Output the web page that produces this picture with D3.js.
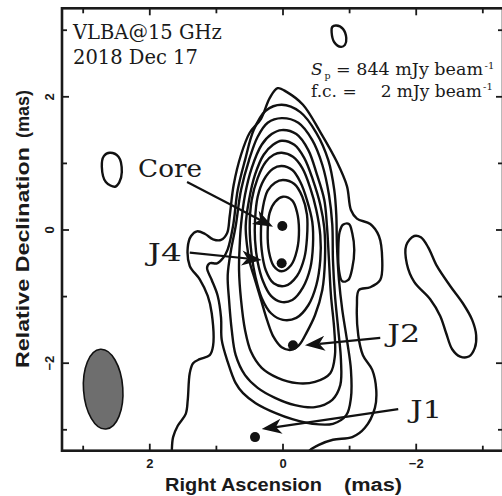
<!DOCTYPE html>
<html>
<head>
<meta charset="utf-8">
<script src="https://cdn.jsdelivr.net/npm/d3@7"></script>
<style>
  html, body { margin: 0; padding: 0; background: #fff; }
  svg { display: block; }
</style>
</head>
<body>
<svg id="map" width="502" height="496"></svg>
<script>
// ---- axis ticks (mas) ----
const raTicks = [3, 2, 1, 0, -1, -2, -3];
const decTicks = [-3, -2, -1, 0, 1, 2, 3];
const labelledTicks = [2, 0, -2];

// ---- contour lines: [relative RA, relative Dec] in mas ----
// lowest contour (f.c.), open towards the southern edge of the map
const contourL1 = [[1.67,-3.68],[1.67,-3.33],[1.65,-3.11],[1.58,-2.94],[1.46,-2.76],[1.43,-2.55],[1.40,-2.15],[1.35,-2.00],[1.25,-1.94],[1.10,-1.88],[1.05,-1.74],[1.07,-1.25],[1.13,-0.99],[1.25,-0.74],[1.40,-0.54],[1.43,-0.26],[1.38,-0.09],[1.29,-0.02],[1.17,-0.06],[1.05,-0.14],[0.93,-0.15],[0.84,-0.05],[0.80,0.21],[0.74,0.68],[0.63,1.13],[0.50,1.46],[0.33,1.67],[0.20,1.98],[0.08,2.13],[-0.06,2.07],[-0.30,1.88],[-0.56,1.47],[-0.81,1.02],[-0.96,0.66],[-1.02,0.30],[-1.11,0.17],[-1.31,0.09],[-1.44,-0.09],[-1.49,-0.45],[-1.46,-0.75],[-1.31,-0.86],[-1.14,-0.90],[-1.11,-1.13],[-1.13,-1.58],[-1.20,-1.88],[-1.34,-2.10],[-1.40,-2.40],[-1.38,-2.67],[-1.23,-2.97],[-1.04,-3.11],[-0.75,-3.15],[-0.53,-3.23],[-0.38,-3.33],[-0.26,-3.68]];
const contourL2 = [[0.02,1.88],[-0.26,1.77],[-0.50,1.46],[-0.68,1.05],[-0.77,0.60],[-0.80,0.23],[-0.81,-0.23],[-0.84,-0.75],[-0.89,-1.20],[-0.96,-1.65],[-1.02,-2.10],[-1.02,-2.52],[-0.95,-2.78],[-0.75,-2.91],[-0.44,-2.91],[-0.14,-2.84],[0.11,-2.75],[0.41,-2.60],[0.60,-2.45],[0.71,-2.30],[0.83,-1.98],[0.92,-1.65],[0.93,-1.32],[0.98,-0.99],[1.07,-0.75],[1.14,-0.57],[1.10,-0.50],[0.99,-0.50],[0.90,-0.42],[0.83,-0.29],[0.75,0.06],[0.68,0.60],[0.57,1.05],[0.44,1.50],[0.26,1.79]];
const contourL3 = [[0.02,1.68],[-0.23,1.61],[-0.44,1.35],[-0.59,0.98],[-0.69,0.53],[-0.74,0.08],[-0.75,-0.45],[-0.78,-0.98],[-0.83,-1.50],[-0.87,-1.95],[-0.86,-2.33],[-0.74,-2.55],[-0.48,-2.66],[-0.18,-2.63],[0.12,-2.52],[0.38,-2.37],[0.57,-2.18],[0.71,-1.88],[0.77,-1.50],[0.81,-1.05],[0.83,-0.68],[0.78,-0.30],[0.71,0.06],[0.63,0.60],[0.51,1.05],[0.38,1.40],[0.23,1.61]];
const contourL4 = [[0.02,1.50],[-0.20,1.44],[-0.38,1.20],[-0.51,0.83],[-0.62,0.45],[-0.66,0.06],[-0.69,-0.45],[-0.72,-0.98],[-0.77,-1.50],[-0.78,-1.88],[-0.71,-2.15],[-0.48,-2.28],[-0.21,-2.30],[0.08,-2.22],[0.32,-2.07],[0.48,-1.83],[0.57,-1.50],[0.63,-1.05],[0.66,-0.60],[0.65,-0.23],[0.63,0.08],[0.57,0.53],[0.47,0.93],[0.32,1.28],[0.17,1.44]];
const contourL5 = [[0.02,1.34],[-0.17,1.28],[-0.32,1.08],[-0.45,0.75],[-0.56,0.38],[-0.62,0.03],[-0.63,-0.45],[-0.59,-0.90],[-0.48,-1.28],[-0.36,-1.53],[-0.24,-1.73],[-0.12,-1.80],[0.02,-1.76],[0.14,-1.61],[0.24,-1.35],[0.33,-1.05],[0.42,-0.75],[0.50,-0.48],[0.54,-0.23],[0.56,0.06],[0.51,0.45],[0.42,0.83],[0.29,1.13],[0.15,1.28]];
const contourL6 = [[0.02,1.16],[-0.15,1.10],[-0.29,0.93],[-0.41,0.63],[-0.50,0.30],[-0.56,-0.08],[-0.56,-0.45],[-0.50,-0.83],[-0.38,-1.13],[-0.20,-1.32],[0.00,-1.35],[0.18,-1.25],[0.32,-1.02],[0.41,-0.72],[0.47,-0.38],[0.50,0.03],[0.47,0.45],[0.38,0.78],[0.26,1.02],[0.14,1.13]];
const contourL7 = [[0.02,0.96],[-0.14,0.90],[-0.26,0.72],[-0.36,0.45],[-0.44,0.12],[-0.45,-0.23],[-0.41,-0.57],[-0.30,-0.86],[-0.14,-1.05],[0.03,-1.08],[0.18,-0.99],[0.30,-0.77],[0.38,-0.48],[0.42,-0.15],[0.42,0.15],[0.38,0.50],[0.29,0.75],[0.15,0.92]];
const contourL8 = [[0.00,0.75],[-0.17,0.69],[-0.29,0.50],[-0.36,0.23],[-0.36,-0.12],[-0.32,-0.42],[-0.21,-0.69],[-0.03,-0.84],[0.14,-0.80],[0.26,-0.60],[0.32,-0.30],[0.33,0.03],[0.30,0.35],[0.23,0.59],[0.12,0.71]];
const contourL9 = [[0.00,0.50],[-0.14,0.44],[-0.21,0.27],[-0.24,0.00],[-0.21,-0.30],[-0.12,-0.53],[0.02,-0.62],[0.14,-0.54],[0.21,-0.33],[0.23,-0.03],[0.20,0.26],[0.12,0.42]];
// isolated low-level islands
const islandWest = [[2.60,1.16],[2.47,1.10],[2.42,0.87],[2.46,0.71],[2.52,0.65],[2.66,0.72],[2.72,0.95],[2.69,1.11]];
const islandNorth = [[-0.80,3.07],[-0.90,3.02],[-0.95,2.88],[-0.93,2.78],[-0.87,2.75],[-0.77,2.82],[-0.73,2.97],[-0.74,3.05]];
const islandEast = [[-1.97,-0.09],[-2.07,-0.11],[-2.18,-0.26],[-2.31,-0.54],[-2.51,-0.84],[-2.70,-1.10],[-2.84,-1.35],[-2.90,-1.58],[-2.88,-1.77],[-2.79,-1.90],[-2.66,-1.90],[-2.54,-1.79],[-2.45,-1.55],[-2.36,-1.29],[-2.21,-1.04],[-1.97,-0.78],[-1.86,-0.51],[-1.85,-0.23]];
const islandRidge = [[-0.90,0.08],[-0.99,0.09],[-1.04,-0.05],[-1.07,-0.30],[-1.04,-0.57],[-0.98,-0.75],[-0.89,-0.77],[-0.84,-0.60],[-0.83,-0.30],[-0.85,-0.03]];

// ---- jet components ----
const componentNames = ["Core", "J4", "J2", "J1"];
const componentRA = [0.01, 0.02, -0.15, 0.42];
const componentDec = [0.06, -0.50, -1.73, -3.11];

// ---- annotation arrows: tail and tip (mas) ----
const arrowTail = [[1.44, 0.72], [1.40, -0.34], [-1.46, -1.62], [-1.73, -2.69]];
const arrowTip = [[0.15, 0.05], [0.32, -0.45], [-0.33, -1.73], [0.32, -2.99]];

// ---- restoring beam (mas, degrees) ----
const beamCentre = [2.70, -2.39];
const beamMajor = 1.20;
const beamMinor = 0.59;
const beamPA = 4;

// ---- header text ----
const headerLines = ["VLBA@15 GHz", "2018 Dec 17"];
const peakFlux = "= 844 mJy beam";
const firstContour = "2 mJy beam";

// ---------------------------------------------------------------
const svg = d3.select("#map");
const frameL = 62, frameR = 503, frameT = 8.3, frameB = 450.7;

const x = d3.scaleLinear().domain([3.318, -3.303]).range([frameL, frameR]);
const y = d3.scaleLinear().domain([-3.314, 3.329]).range([frameB, frameT]);
const pxPerMas = Math.abs(x(1) - x(0));

svg.append("defs").append("clipPath").attr("id", "plotClip")
  .append("rect").attr("x", frameL).attr("y", frameT)
  .attr("width", frameR - frameL).attr("height", frameB - frameT);

const plot = svg.append("g").attr("clip-path", "url(#plotClip)");

// contours
const ring = d3.line()
  .x(d => x(d[0])).y(d => y(d[1]))
  .curve(d3.curveCatmullRomClosed.alpha(0.5));

const contourSet = [contourL1, contourL2, contourL3, contourL4, contourL5,
  contourL6, contourL7, contourL8, contourL9,
  islandWest, islandNorth, islandEast, islandRidge];

plot.selectAll("path.contour").data(contourSet).join("path")
  .attr("class", "contour")
  .attr("d", ring)
  .attr("fill", "none")
  .attr("stroke", "#111")
  .attr("stroke-width", 2.4)
  .attr("stroke-linejoin", "round");

// beam
plot.append("ellipse")
  .attr("cx", 0).attr("cy", 0)
  .attr("rx", beamMinor / 2 * pxPerMas)
  .attr("ry", beamMajor / 2 * pxPerMas)
  .attr("transform", `translate(${x(beamCentre[0])},${y(beamCentre[1])}) rotate(${-beamPA})`)
  .attr("fill", "#6e6e6e")
  .attr("stroke", "#111")
  .attr("stroke-width", 1.6);

// arrows
const headLen = 20, headHalf = 7.5;
componentNames.forEach((name, i) => {
  const x0 = x(arrowTail[i][0]), y0 = y(arrowTail[i][1]);
  const x1 = x(arrowTip[i][0]), y1 = y(arrowTip[i][1]);
  const len = Math.hypot(x1 - x0, y1 - y0);
  const ux = (x1 - x0) / len, uy = (y1 - y0) / len;
  const nx = -uy, ny = ux;
  const bx = x1 - ux * headLen, by = y1 - uy * headLen;
  const mx = x1 - ux * headLen * 0.72, my = y1 - uy * headLen * 0.72;
  plot.append("line")
    .attr("x1", x0).attr("y1", y0).attr("x2", mx).attr("y2", my)
    .attr("stroke", "#111").attr("stroke-width", 2.2);
  plot.append("path")
    .attr("d", `M${x1},${y1}L${bx + nx * headHalf},${by + ny * headHalf}L${mx},${my}L${bx - nx * headHalf},${by - ny * headHalf}Z`)
    .attr("fill", "#111");
});

// component markers
plot.selectAll("circle.comp").data(componentNames).join("circle")
  .attr("class", "comp")
  .attr("cx", (d, i) => x(componentRA[i]))
  .attr("cy", (d, i) => y(componentDec[i]))
  .attr("r", 5)
  .attr("fill", "#111");

// frame
svg.append("rect")
  .attr("x", frameL).attr("y", frameT)
  .attr("width", frameR - frameL).attr("height", frameB - frameT)
  .attr("fill", "none").attr("stroke", "#1a1a1a").attr("stroke-width", 2.6);

// inward ticks on all four sides
const tickLen = v => labelledTicks.includes(v) ? 7 : 5;
const ticks = svg.append("g").attr("stroke", "#1a1a1a").attr("stroke-width", 1.8);
raTicks.forEach(v => {
  ticks.append("line").attr("x1", x(v)).attr("x2", x(v)).attr("y1", frameB).attr("y2", frameB - tickLen(v));
  ticks.append("line").attr("x1", x(v)).attr("x2", x(v)).attr("y1", frameT).attr("y2", frameT + tickLen(v));
});
decTicks.forEach(v => {
  ticks.append("line").attr("y1", y(v)).attr("y2", y(v)).attr("x1", frameL).attr("x2", frameL + tickLen(v));
  ticks.append("line").attr("y1", y(v)).attr("y2", y(v)).attr("x1", frameR).attr("x2", frameR - tickLen(v));
});

const fmt = v => v < 0 ? "\u2212" + Math.abs(v) : String(v);
const tickFont = "'Liberation Sans', Arial, sans-serif";
svg.selectAll("text.xt").data(labelledTicks).join("text")
  .attr("class", "xt")
  .attr("x", d => x(d)).attr("y", 468)
  .attr("text-anchor", "middle")
  .attr("font-family", tickFont).attr("font-weight", "bold").attr("font-size", 13)
  .attr("fill", "#1a1a1a")
  .text(fmt);
svg.selectAll("text.yt").data(labelledTicks).join("text")
  .attr("class", "yt")
  .attr("transform", d => `translate(53.5,${y(d)}) rotate(-90)`)
  .attr("text-anchor", "middle")
  .attr("font-family", tickFont).attr("font-weight", "bold").attr("font-size", 13)
  .attr("fill", "#1a1a1a")
  .text(fmt);

// axis titles
const titleFont = "'Liberation Sans', Arial, sans-serif";
function title(g, str, len) {
  return g.append("text").attr("font-family", titleFont).attr("font-weight", "bold")
    .attr("font-size", 18).attr("fill", "#1a1a1a")
    .attr("textLength", len).attr("lengthAdjust", "spacingAndGlyphs").text(str);
}
title(svg, "Right Ascension", 157).attr("x", 165).attr("y", 491);
title(svg, "(mas)", 58).attr("x", 344).attr("y", 491);
const yTitle = svg.append("g").attr("transform", "translate(28.5,0) rotate(-90)");
title(yTitle, "Relative Declination", 221).attr("x", -368).attr("y", 0);
title(yTitle, "(mas)", 48).attr("x", -138).attr("y", 0);

// header and labels
const serif = "'DejaVu Serif', serif";
headerLines.forEach((t, i) => {
  svg.append("text").attr("x", 73).attr("y", 38.7 + i * 25.3)
    .attr("font-family", serif).attr("font-size", 19.5).attr("fill", "#1a1a1a")
    .text(t);
});

const info = svg.append("g").attr("font-family", serif).attr("fill", "#1a1a1a");
info.append("text").attr("x", 311).attr("y", 75).attr("font-size", 17)
  .attr("font-style", "italic").text("S");
info.append("text").attr("x", 324.5).attr("y", 78.5).attr("font-size", 9.5).text("p");
info.append("text").attr("x", 336).attr("y", 75).attr("font-size", 17)
  .attr("textLength", 147).attr("lengthAdjust", "spacingAndGlyphs").text(peakFlux);
info.append("text").attr("x", 484.5).attr("y", 68.5).attr("font-size", 10).text("-1");
info.append("text").attr("x", 311).attr("y", 96.7).attr("font-size", 17).text("f.c. =");
info.append("text").attr("x", 482).attr("y", 96.7).attr("font-size", 17)
  .attr("text-anchor", "end").text(firstContour);
info.append("text").attr("x", 483).attr("y", 90).attr("font-size", 10).text("-1");

// component labels, placed at the arrow tails
const labelOffset = [[-49, -5], [-42, 8], [7, 4.5], [12, 8.5]];
const labelWidth = [64, 34, 33, 32];
componentNames.forEach((name, i) => {
  svg.append("text")
    .attr("x", x(arrowTail[i][0]) + labelOffset[i][0])
    .attr("y", y(arrowTail[i][1]) + labelOffset[i][1])
    .attr("font-family", serif).attr("font-size", 25).attr("fill", "#1a1a1a")
    .attr("textLength", labelWidth[i]).attr("lengthAdjust", "spacingAndGlyphs")
    .text(name);
});
</script>
</body>
</html>
